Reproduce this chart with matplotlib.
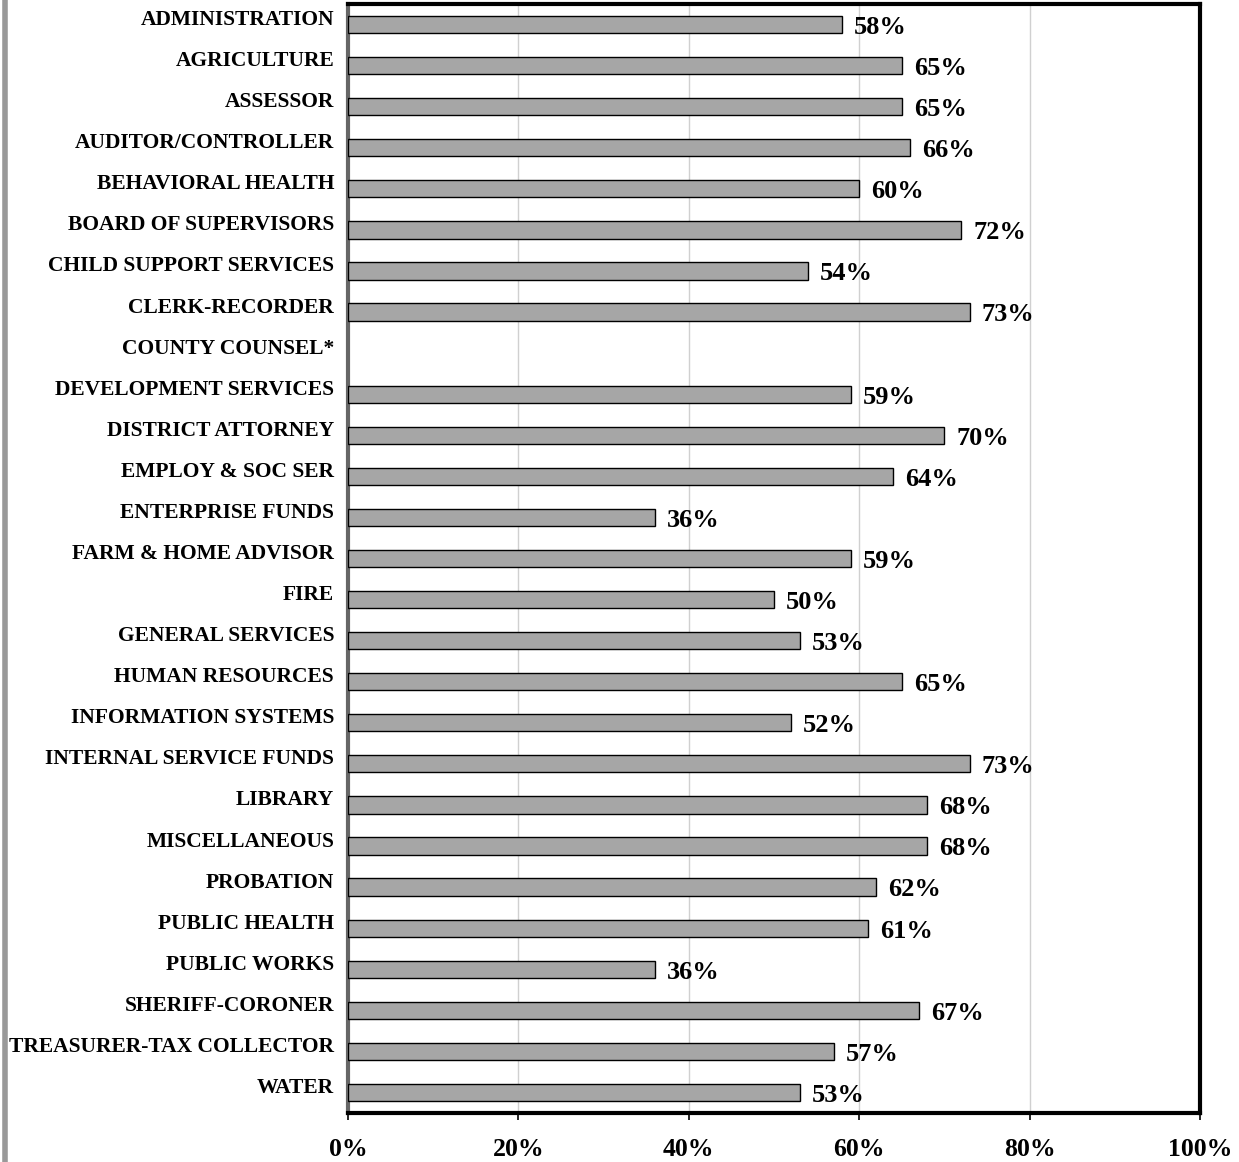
import numpy as np
import matplotlib
matplotlib.use('Agg')
import matplotlib.pyplot as plt
from matplotlib.lines import Line2D
from matplotlib.transforms import ScaledTranslation

plt.rcParams['font.family'] = ['Liberation Serif', 'DejaVu Serif']

departments = [
    'ADMINISTRATION', 'AGRICULTURE', 'ASSESSOR', 'AUDITOR/CONTROLLER',
    'BEHAVIORAL HEALTH', 'BOARD OF SUPERVISORS', 'CHILD SUPPORT SERVICES',
    'CLERK-RECORDER', 'COUNTY COUNSEL*', 'DEVELOPMENT SERVICES',
    'DISTRICT ATTORNEY', 'EMPLOY & SOC SER', 'ENTERPRISE FUNDS',
    'FARM & HOME ADVISOR', 'FIRE', 'GENERAL SERVICES', 'HUMAN RESOURCES',
    'INFORMATION SYSTEMS', 'INTERNAL SERVICE FUNDS', 'LIBRARY',
    'MISCELLANEOUS', 'PROBATION', 'PUBLIC HEALTH', 'PUBLIC WORKS',
    'SHERIFF-CORONER', 'TREASURER-TAX COLLECTOR', 'WATER',
]
# percent of respondents; County Counsel has no reported value
pct = [58, 65, 65, 66, 60, 72, 54, 73, np.nan, 59, 70, 64, 36, 59, 50,
       53, 65, 52, 73, 68, 68, 62, 61, 36, 67, 57, 53]
x_ticks = [0, 20, 40, 60, 80, 100]

fig = plt.figure(figsize=(12.39, 11.62), dpi=100)
ax = fig.add_axes([348 / 1239, 1 - 1113 / 1162, 852 / 1239, 1109 / 1162])

y = np.arange(len(departments))
vals = np.array(pct, dtype=float)
has = ~np.isnan(vals)
ax.barh(y[has], vals[has], height=0.42, color='#a6a6a6',
        edgecolor='black', linewidth=1.0, zorder=3)

for yi, v in zip(y[has], vals[has]):
    ax.text(v + 1.4, yi + 0.07, f'{v:.0f}%', ha='left', va='center',
            fontsize=19, fontweight='bold', zorder=4)

ax.set_xlim(0, 100)
ax.set_ylim(len(departments) - 0.5, -0.5)
ax.set_xticks(x_ticks)
ax.set_xticklabels([f'{t}%' for t in x_ticks], fontsize=18.5, fontweight='bold')
ax.tick_params(axis='x', length=5, width=1.2, pad=13, direction='out')
ax.xaxis.grid(True, color='#d0d0d0', linewidth=1.0, zorder=0)
ax.set_axisbelow(True)

ax.set_yticks(y)
ax.set_yticklabels(departments, fontsize=15.5, fontweight='bold')
ax.tick_params(axis='y', length=0, pad=10)
# category names sit a little above the bar centres
shift = ScaledTranslation(0, 7 / 100, fig.dpi_scale_trans)
for lbl in ax.get_yticklabels():
    lbl.set_transform(lbl.get_transform() + shift)

for side in ('top', 'right', 'bottom'):
    ax.spines[side].set_linewidth(3)
    ax.spines[side].set_color('black')
ax.spines['left'].set_linewidth(3)
ax.spines['left'].set_color('#666666')

# grey rule down the left margin
fig.add_artist(Line2D([5 / 1239, 5 / 1239], [0, 1], color='#999999',
                      linewidth=4, transform=fig.transFigure))

fig.savefig('out.png', dpi=100)
